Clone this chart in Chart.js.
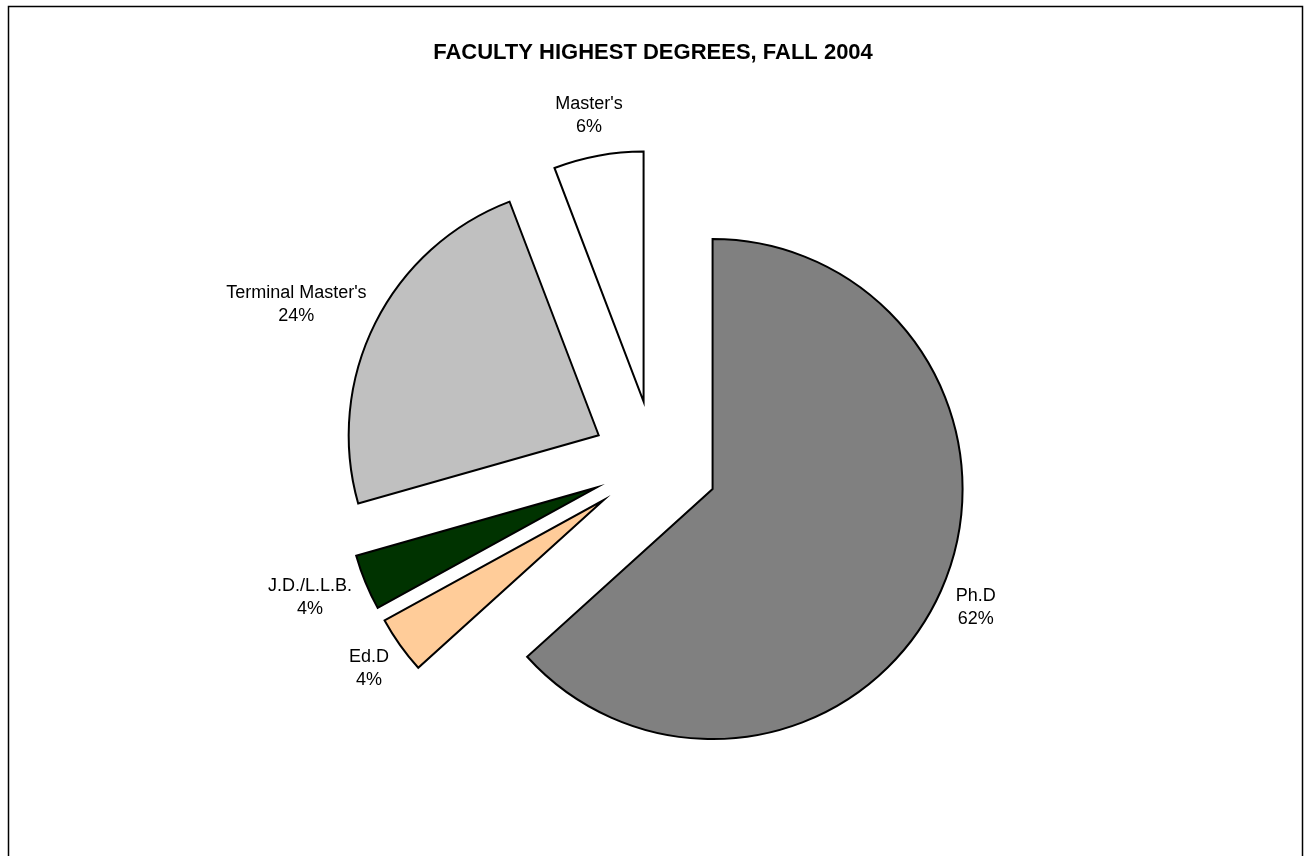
<!DOCTYPE html>
<html>
<head>
<meta charset="utf-8">
<script src="https://cdn.jsdelivr.net/npm/chart.js@4/dist/chart.umd.min.js"></script>
<style>
  html, body { margin: 0; padding: 0; background: #ffffff; }
  #wrap { width: 1306px; height: 856px; position: relative; }
</style>
</head>
<body>
<div id="wrap"><canvas id="c" width="1306" height="856"></canvas></div>
<script>
// ---- data ----
const chartTitle = "FACULTY HIGHEST DEGREES, FALL 2004";
const categories = ["Ph.D", "Ed.D", "J.D./L.L.B.", "Terminal Master's", "Master's"];
const values = [63.3, 3.7, 3.6, 23.6, 5.8];
const percentLabels = ["62%", "4%", "4%", "24%", "6%"];
const sliceColors = ["#808080", "#FFCC99", "#003300", "#C0C0C0", "#FFFFFF"];

const FONT = "'Liberation Sans', Arial, Helvetica, sans-serif";
const EXPLODE = 63;
const LABEL_GAP = 18;

const explodePlugin = {
  id: 'explode',
  afterDatasetUpdate(chart, args) {
    const meta = args.meta;
    meta.data.forEach(el => {
      const mid = (el.startAngle + el.endAngle) / 2;
      el.x += Math.cos(mid) * EXPLODE;
      el.y += Math.sin(mid) * EXPLODE;
    });
  }
};

const framePlugin = {
  id: 'frame',
  beforeDraw(chart) {
    const ctx = chart.ctx;
    ctx.save();
    ctx.fillStyle = '#ffffff';
    ctx.fillRect(0, 0, chart.width, chart.height);
    ctx.strokeStyle = '#000000';
    ctx.lineWidth = 1.5;
    ctx.strokeRect(8.5, 6.5, chart.width - 12, chart.height + 40);
    ctx.restore();
  },
  afterDraw(chart) {
    const ctx = chart.ctx;
    ctx.save();
    ctx.fillStyle = '#000000';
    ctx.font = "bold 22px " + FONT;
    ctx.textAlign = 'center';
    ctx.textBaseline = 'alphabetic';
    ctx.fillText(chartTitle, chart.width / 2, 59);
    ctx.restore();
  }
};

const labelPlugin = {
  id: 'sliceLabels',
  afterDatasetsDraw(chart) {
    const ctx = chart.ctx;
    const meta = chart.getDatasetMeta(0);
    ctx.save();
    ctx.font = "18px " + FONT;
    ctx.fillStyle = '#000000';
    ctx.textAlign = 'center';
    ctx.textBaseline = 'middle';
    const lineH = 23;
    meta.data.forEach((el, i) => {
      const mid = (el.startAngle + el.endAngle) / 2;
      const dx = Math.cos(mid), dy = Math.sin(mid);
      const lines = [categories[i], percentLabels[i]];
      const w = Math.max(...lines.map(t => ctx.measureText(t).width));
      const h = lineH * lines.length;
      const r = el.outerRadius + LABEL_GAP;
      const cx = el.x + dx * r + dx * w / 2;
      const cy = el.y + dy * r + dy * h / 2;
      lines.forEach((t, k) => {
        ctx.fillText(t, cx, cy - h / 2 + lineH * (k + 0.5));
      });
    });
    ctx.restore();
  }
};

new Chart(document.getElementById('c'), {
  type: 'pie',
  data: {
    labels: categories,
    datasets: [{
      data: values,
      backgroundColor: sliceColors,
      borderColor: '#000000',
      borderWidth: 2,
      borderJoinStyle: 'miter',
      hoverOffset: 0
    }]
  },
  options: {
    responsive: false,
    animation: false,
    radius: 250,
    rotation: 0,
    layout: { padding: { left: 4, right: 0, top: 71, bottom: 0 } },
    plugins: {
      legend: { display: false },
      title: { display: false },
      tooltip: { enabled: false }
    },
    events: []
  },
  plugins: [explodePlugin, framePlugin, labelPlugin]
});
</script>
</body>
</html>
